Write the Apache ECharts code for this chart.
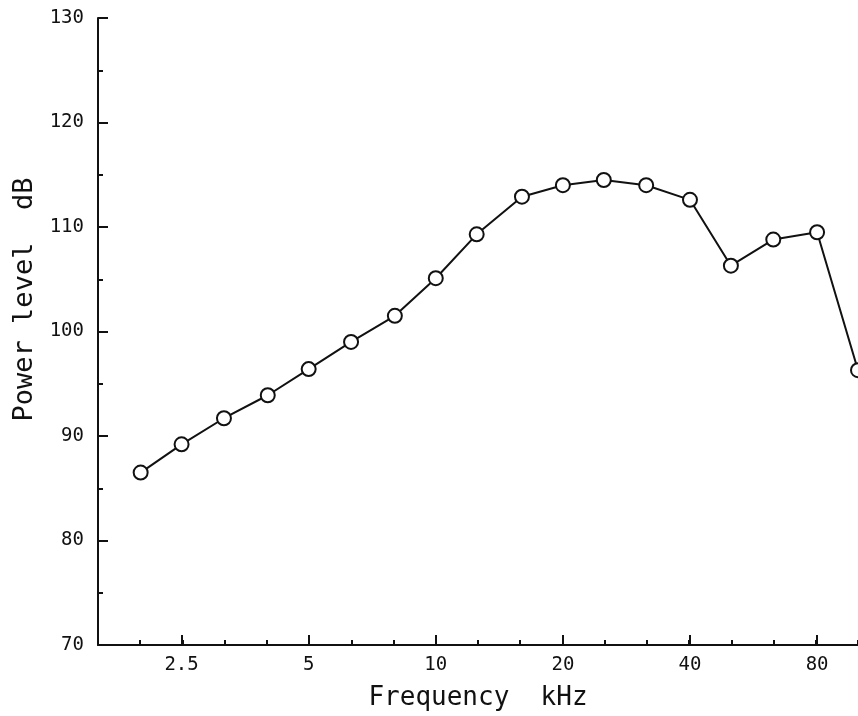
<!DOCTYPE html>
<html>
<head>
<meta charset="utf-8">
<script src="https://cdn.jsdelivr.net/npm/echarts@6/dist/echarts.min.js"></script>
<style>
  html, body { margin: 0; padding: 0; background: #fff; }
  #chart { width: 858px; height: 716px; }
</style>
</head>
<body>
<div id="chart"></div>
<script>
// One-third-octave band centre frequencies (kHz) and measured power level (dB)
var freqKHz = [2, 2.5, 3.15, 4, 5, 6.3, 8, 10, 12.5, 16, 20, 25, 31.5, 40, 50, 63, 80, 100];
var levelDB = [86.5, 89.2, 91.7, 93.9, 96.4, 99.0, 101.5, 105.1, 109.3, 112.9, 114.0, 114.5, 114.0, 112.6, 106.3, 108.8, 109.5, 96.3];

// Labelled frequencies on the horizontal axis
var tickFreqs = [2.5, 5, 10, 20, 40, 80];
var tickLabels = ['2.5', '5', '10', '20', '40', '80'];

// Level axis ticks
var levelTicks = [70, 80, 90, 100, 110, 120, 130];

// Frequency is plotted on a band scale: 10*log10(f), one unit per third octave
function band(f) { return 10 * Math.log10(f); }

var FONT = 'DejaVu Sans Mono';
var majorBands = tickFreqs.map(band);
var minorBands = [];
for (var b = 2; b <= 20; b++) minorBands.push(b);

var seriesData = freqKHz.map(function (f, i) { return [band(f), levelDB[i]]; });

var baseX = {
  type: 'value',
  min: 2,
  max: 20,
  splitLine: { show: false }
};

var option = {
  animation: false,
  backgroundColor: '#fff',
  grid: { left: 98, right: 0, top: 18, bottom: 71, containLabel: false },
  xAxis: [
    Object.assign({}, baseX, {
      name: 'Frequency  kHz',
      nameLocation: 'middle',
      nameGap: 40,
      nameTextStyle: { fontFamily: FONT, fontSize: 26, color: '#111' },
      axisLine: { show: true, lineStyle: { color: '#111', width: 2 } },
      axisTick: { show: true, inside: true, length: 5, customValues: minorBands,
                  lineStyle: { color: '#111', width: 2 } },
      axisLabel: {
        show: true,
        customValues: majorBands,
        margin: 11,
        fontFamily: FONT, fontSize: 19, color: '#111',
        formatter: function (v) {
          for (var i = 0; i < majorBands.length; i++) {
            if (Math.abs(majorBands[i] - v) < 1e-6) return tickLabels[i];
          }
          return '';
        }
      }
    }),
    Object.assign({}, baseX, {
      position: 'bottom',
      axisLine: { show: false },
      axisTick: { show: true, inside: true, length: 10, customValues: majorBands,
                  lineStyle: { color: '#111', width: 2 } },
      axisLabel: { show: false }
    })
  ],
  yAxis: {
    type: 'value',
    min: 70,
    max: 130,
    interval: 10,
    name: 'Power level  dB',
    nameLocation: 'middle',
    nameGap: 58,
    nameRotate: 90,
    nameTextStyle: { fontFamily: FONT, fontSize: 27, color: '#111', padding: [0, 0, 0, 64] },
    splitLine: { show: false },
    axisLine: { show: true, lineStyle: { color: '#111', width: 2 } },
    axisTick: { show: true, inside: true, length: 10, lineStyle: { color: '#111', width: 2 } },
    minorTick: { show: true, splitNumber: 2, length: 5, lineStyle: { color: '#111', width: 2 } },
    axisLabel: {
      margin: 14,
      fontFamily: FONT, fontSize: 19, color: '#111',
      formatter: function (v) { return levelTicks.indexOf(v) >= 0 ? String(v) : ''; }
    }
  },
  series: [{
    type: 'line',
    xAxisIndex: 0,
    data: seriesData,
    symbol: 'circle',
    symbolSize: 14,
    showSymbol: true,
    clip: false,
    lineStyle: { color: '#111', width: 2 },
    itemStyle: { color: '#fff', borderColor: '#111', borderWidth: 2 }
  }]
};

var chart = echarts.init(document.getElementById('chart'), null, { renderer: 'canvas' });
chart.setOption(option);
</script>
</body>
</html>
